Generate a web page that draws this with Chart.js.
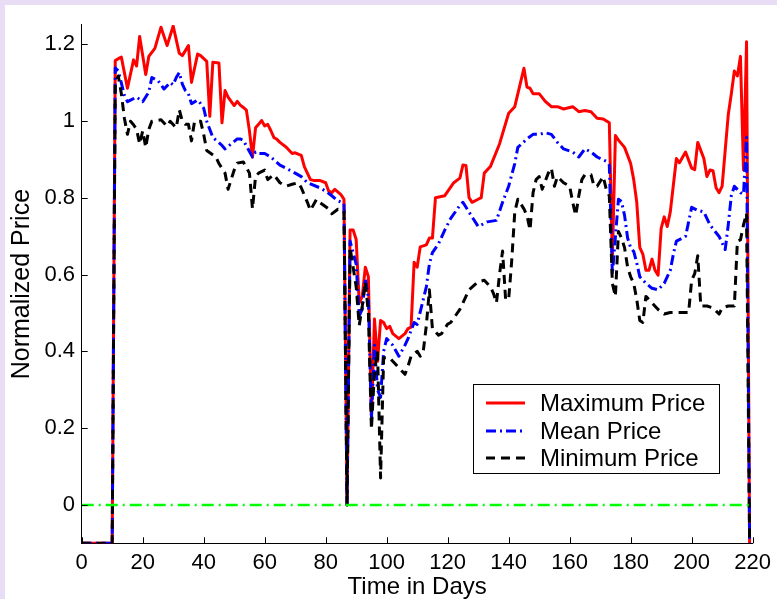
<!DOCTYPE html>
<html>
<head>
<meta charset="utf-8">
<script src="https://cdn.jsdelivr.net/npm/chart.js@4.4.1/dist/chart.umd.min.js"></script>
<style>
  html, body { margin: 0; padding: 0; background: #e8ddf5; }
  #wrap { position: absolute; left: 5px; top: 5px; width: 772px; height: 594px; background: #ffffff; }
  canvas { display: block; }
</style>
</head>
<body>
<div id="wrap"><canvas id="chart" width="772" height="594"></canvas></div>
<script>
// Daily normalized prices (days without trading sit below the axis at -0.1)
const maxDays = [0,10,11,12,13,15,17,18,19,21,22,24,26,28,30,32,33,35,36,38,39,41,42,43,45,46,47,48,50,51,52,53,54,55,56,57,58,59,60,61,62,63,64,65,67,69,70,72,73,75,76,78,80,81,82,83,85,86,87,88,89,90,91,92,93,94,95,96,97,98,99,100,101,102,104,106,107,108,109,110,111,113,114,115,116,119,122,124,125,126,127,128,130,131,132,134,137,140,142,145,146,147,148,150,152,154,156,158,161,163,165,167,169,171,173,174,175,176,178,180,181,182,183,184,185,186,187,188,189,190,191,192,193,195,196,198,200,201,202,204,205,206,207,208,209,210,211,212,213,214,215,216,217,218,219];
const maxPrice = [-0.1,-0.1,1.157,1.162,1.166,1.085,1.159,1.143,1.220,1.121,1.168,1.189,1.244,1.196,1.247,1.176,1.170,1.196,1.100,1.174,1.170,1.155,1.012,1.153,1.151,0.995,1.079,1.062,1.040,1.051,1.041,1.035,1.028,0.974,0.906,0.982,0.991,1.001,0.987,0.991,0.975,0.957,0.952,0.944,0.932,0.915,0.917,0.910,0.881,0.847,0.845,0.845,0.839,0.817,0.813,0.822,0.808,0.796,0,0.716,0.716,0.691,0.526,0.543,0.619,0.594,0.231,0.484,0.374,0.480,0.475,0.459,0.465,0.446,0.433,0.446,0.459,0.463,0.632,0.619,0.672,0.677,0.695,0.695,0.800,0.805,0.839,0.851,0.885,0.884,0.800,0.788,0.796,0.800,0.864,0.881,0.940,1.020,1.037,1.137,1.088,1.085,1.071,1.071,1.051,1.037,1.037,1.031,1.037,1.024,1.027,1.024,1.007,1.005,0.995,0.640,0.962,0.950,0.931,0.889,0.847,0.788,0.670,0.653,0.611,0.611,0.640,0.611,0.598,0.720,0.750,0.725,0.763,0.902,0.891,0.919,0.877,0.873,0.944,0.902,0.855,0.872,0.870,0.826,0.813,0.830,0.923,1.016,1.070,1.130,1.117,1.168,0.872,1.206,-0.1];

const meanDays = [0,10,11,12,14,15,16,18,20,22,23,25,27,29,30,31,32,33,34,35,36,38,39,40,41,43,46,47,49,51,52,53,56,57,58,60,62,65,66,70,72,74,78,80,82,84,86,87,88,90,91,92,93,94,95,96,97,98,99,100,102,104,106,107,109,110,112,113,114,115,117,119,121,124,125,128,130,133,136,138,140,142,143,146,148,150,152,154,156,158,161,163,165,167,169,172,173,174,176,177,178,179,180,181,182,183,185,187,189,191,193,194,195,197,198,199,200,202,204,206,209,211,212,213,214,216,217,218,219];
const meanPrice = [-0.1,-0.1,1.138,1.130,1.067,1.050,1.054,1.062,1.050,1.075,1.113,1.105,1.083,1.100,1.094,1.113,1.126,1.096,1.079,1.071,1.045,1.054,1.045,1.033,0.999,0.957,0.936,0.927,0.940,0.953,0.953,0.949,0.906,0.919,0.915,0.915,0.906,0.885,0.881,0.864,0.855,0.839,0.826,0.817,0.805,0.792,0.785,0,0.687,0.627,0.492,0.510,0.589,0.540,0.222,0.416,0.300,0.280,0.400,0.433,0.416,0.387,0.416,0.433,0.475,0.470,0.535,0.568,0.627,0.657,0.680,0.715,0.746,0.780,0.788,0.750,0.725,0.737,0.741,0.788,0.830,0.889,0.931,0.953,0.965,0.965,0.969,0.965,0.944,0.927,0.919,0.906,0.927,0.919,0.906,0.895,0.885,0.600,0.796,0.790,0.754,0.695,0.670,0.660,0.630,0.594,0.577,0.564,0.560,0.577,0.611,0.653,0.687,0.695,0.699,0.737,0.775,0.767,0.763,0.729,0.699,0.665,0.729,0.805,0.830,0.813,0.809,0.957,-0.1];

const minDays = [0,10,11,12,13,14,15,16,17,18,19,20,21,22,23,26,28,29,31,32,33,34,35,36,37,39,40,41,44,45,47,48,50,51,53,55,56,57,58,60,61,63,65,67,69,71,72,74,75,77,78,81,82,84,86,87,88,90,91,92,93,94,95,96,97,98,99,101,102,104,106,107,108,110,111,112,113,114,115,117,118,120,121,124,127,130,132,134,135,136,137,138,139,140,141,142,143,145,146,147,148,149,150,151,153,154,155,156,158,160,161,162,163,164,165,167,168,169,171,172,173,174,175,176,177,178,179,180,181,182,183,184,185,187,189,191,193,197,199,200,201,202,203,205,207,209,210,212,214,215,216,217,218,219];
const minPrice = [-0.1,-0.1,1.100,1.117,1.071,1.007,0.965,0.999,0.990,0.978,0.940,0.974,0.931,0.978,0.999,1.003,0.986,0.999,0.982,1.029,0.999,0.991,0.991,0.948,0.999,0.999,0.965,0.923,0.906,0.889,0.864,0.822,0.872,0.890,0.893,0.864,0.771,0.855,0.864,0.872,0.847,0.860,0.839,0.830,0.835,0.839,0.826,0.788,0.767,0.796,0.788,0.771,0.758,0.770,0.765,0,0.670,0.568,0.467,0.518,0.581,0.500,0.197,0.349,0.400,0.070,0.383,0.383,0.374,0.357,0.340,0.361,0.387,0.400,0.387,0.400,0.467,0.560,0.459,0.442,0.446,0.471,0.475,0.509,0.560,0.581,0.585,0.568,0.551,0.526,0.600,0.661,0.535,0.535,0.636,0.763,0.796,0.771,0.754,0.716,0.813,0.847,0.855,0.822,0.864,0.877,0.830,0.855,0.839,0.830,0.788,0.754,0.805,0.847,0.860,0.860,0.830,0.830,0.855,0.822,0.805,0.577,0.543,0.712,0.695,0.670,0.619,0.594,0.577,0.535,0.480,0.475,0.543,0.526,0.509,0.497,0.501,0.501,0.501,0.585,0.602,0.649,0.518,0.518,0.513,0.497,0.513,0.518,0.518,0.687,0.690,0.729,0.760,-0.1];

// Zero reference line
const zeroDays = [0, 219];
const zeroLine = [0, 0];

// Axis ticks
const xTicks = [0, 20, 40, 60, 80, 100, 120, 140, 160, 180, 200, 220];
const yTicks = [0, 0.2, 0.4, 0.6, 0.8, 1.0, 1.2];

const FONT = '"Liberation Sans", Arial, Helvetica, sans-serif';

const toPoints = (xs, ys) => xs.map((x, i) => ({ x: x, y: ys[i] }));

// Inward-pointing tick marks on the left and bottom axes
const innerTicks = {
  id: 'innerTicks',
  afterDraw(chart) {
    const { ctx, chartArea, scales } = chart;
    const len = 6;
    ctx.save();
    ctx.strokeStyle = '#000';
    ctx.lineWidth = 1;
    ctx.beginPath();
    xTicks.forEach(v => {
      const px = Math.round(scales.x.getPixelForValue(v)) + 0.5;
      ctx.moveTo(px, chartArea.bottom);
      ctx.lineTo(px, chartArea.bottom - len);
    });
    yTicks.forEach(v => {
      const py = Math.round(scales.y.getPixelForValue(v)) + 0.5;
      ctx.moveTo(chartArea.left, py);
      ctx.lineTo(chartArea.left + len, py);
    });
    ctx.stroke();
    ctx.restore();
  }
};

// Boxed legend inside the plot area
const boxLegend = {
  id: 'boxLegend',
  afterDraw(chart) {
    const ctx = chart.ctx;
    const bx = 468, by = 379, bw = 246, bh = 89;
    const rowY = [398, 426, 453];
    ctx.save();
    ctx.fillStyle = '#fff';
    ctx.fillRect(bx, by, bw, bh);
    ctx.strokeStyle = '#000';
    ctx.lineWidth = 1;
    ctx.strokeRect(bx + 0.5, by + 0.5, bw, bh);
    const items = chart.data.datasets.filter(d => d.inLegend);
    items.forEach((ds, i) => {
      const y = rowY[i];
      ctx.beginPath();
      ctx.strokeStyle = ds.borderColor;
      ctx.lineWidth = ds.borderWidth;
      ctx.setLineDash(ds.borderDash || []);
      ctx.moveTo(481, y);
      ctx.lineTo(520, y);
      ctx.stroke();
      ctx.setLineDash([]);
      ctx.fillStyle = '#000';
      ctx.font = '24px ' + FONT;
      ctx.textBaseline = 'middle';
      ctx.textAlign = 'left';
      ctx.fillText(ds.label, 535, y + 1);
    });
    ctx.restore();
  }
};

new Chart(document.getElementById('chart'), {
  type: 'line',
  data: {
    datasets: [
      {
        label: 'Maximum Price',
        data: toPoints(maxDays, maxPrice),
        borderColor: '#ff0000',
        borderWidth: 3,
        inLegend: true,
        order: 4
      },
      {
        label: 'Mean Price',
        data: toPoints(meanDays, meanPrice),
        borderColor: '#0000ff',
        borderWidth: 3,
        borderDash: [10, 4, 2, 4],
        inLegend: true,
        order: 3
      },
      {
        label: 'Minimum Price',
        data: toPoints(minDays, minPrice),
        borderColor: '#000000',
        borderWidth: 3,
        borderDash: [9, 6],
        inLegend: true,
        order: 2
      },
      {
        label: 'zero',
        data: toPoints(zeroDays, zeroLine),
        borderColor: '#00ff00',
        borderWidth: 2.5,
        borderDash: [12, 5, 2, 5],
        inLegend: false,
        order: 1
      }
    ]
  },
  options: {
    responsive: false,
    devicePixelRatio: 1,
    animation: false,
    events: [],
    layout: { padding: { left: 0, top: 7, right: 21.3, bottom: 0 } },
    elements: {
      line: { tension: 0, fill: false, borderCapStyle: 'butt', borderJoinStyle: 'round' },
      point: { radius: 0, hoverRadius: 0 }
    },
    plugins: {
      legend: { display: false },
      tooltip: { enabled: false }
    },
    scales: {
      x: {
        type: 'linear',
        min: 0,
        max: 220,
        grid: { display: false, drawTicks: false },
        border: { display: true, color: '#000', width: 1 },
        afterBuildTicks: s => { s.ticks = xTicks.map(v => ({ value: v })); },
        afterFit: s => { s.height = 55.7; },
        ticks: {
          color: '#000',
          padding: 6,
          maxRotation: 0,
          autoSkip: false,
          font: { family: FONT, size: 22 },
          callback: v => String(v)
        },
        title: {
          display: true,
          text: 'Time in Days',
          color: '#000',
          padding: { top: 0, bottom: 0 },
          font: { family: FONT, size: 24, lineHeight: 1.0 }
        }
      },
      y: {
        type: 'linear',
        min: -0.1,
        max: 1.25,
        grid: { display: false, drawTicks: false },
        border: { display: true, color: '#000', width: 1 },
        afterBuildTicks: s => { s.ticks = yTicks.map(v => ({ value: v })); },
        afterFit: s => { s.width = 76.7; },
        ticks: {
          color: '#000',
          padding: 6.7,
          autoSkip: false,
          font: { family: FONT, size: 22 },
          callback: v => String(Math.round(v * 10) / 10)
        },
        title: {
          display: true,
          text: 'Normalized Price',
          color: '#000',
          padding: { top: 5, bottom: 0 },
          font: { family: FONT, size: 25, lineHeight: 1.0 }
        }
      }
    }
  },
  plugins: [innerTicks, boxLegend]
});
</script>
</body>
</html>
